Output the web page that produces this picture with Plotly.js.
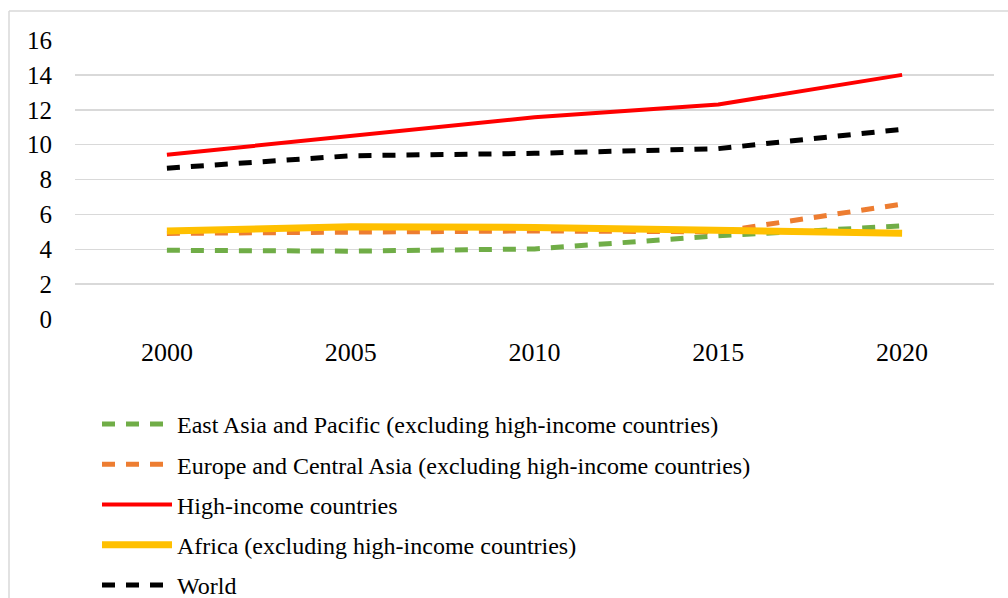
<!DOCTYPE html>
<html>
<head>
<meta charset="utf-8">
<script src="https://cdn.plot.ly/plotly-3.0.1.min.js"></script>
<style>
html,body{margin:0;padding:0;background:#fff;}
#chart{width:1008px;height:598px;}
</style>
</head>
<body>
<div id="chart"></div>
<script>
var years = ['2000', '2005', '2010', '2015', '2020'];
var eastAsia = [3.94, 3.89, 4.02, 4.77, 5.34];
var europe = [4.91, 5.0, 5.05, 5.0, 6.59];
var highIncome = [9.42, 10.5, 11.57, 12.3, 14.0];
var africa = [5.04, 5.29, 5.25, 5.09, 4.92];
var world = [8.65, 9.36, 9.5, 9.77, 10.88];
var names = [
  'East Asia and Pacific (excluding high-income countries)',
  'Europe and Central Asia (excluding high-income countries)',
  'High-income countries',
  'Africa (excluding high-income countries)',
  'World'
];

var FONT = 'Liberation Serif';
var dashPat = '13px,11px';

function tr(y, name, color, width, dash, grp) {
  return {
    x: years, y: y, name: name, type: 'scatter', mode: 'lines',
    line: {color: color, width: width, dash: dash},
    legendgroup: grp, hoverinfo: 'x+y+name'
  };
}

var data = [
  tr(eastAsia, names[0], '#70AD47', 5, dashPat, 'g1'),
  tr(europe, names[1], '#ED7D31', 5, dashPat, 'g2'),
  tr(highIncome, names[2], '#FF0000', 4, 'solid', 'g3'),
  tr(africa, names[3], '#FFC000', 7, 'solid', 'g4'),
  tr(world, names[4], '#000000', 5, dashPat, 'g5')
];

var L = 75, R = 994, T = 40, B = 319;
function px(x){ return (x - L) / (R - L); }
function py(y){ return (B - y) / (B - T); }

var layout = {
  width: 1008, height: 598,
  margin: {l: L, r: 1008 - R, t: T, b: 598 - B, autoexpand: false},
  paper_bgcolor: '#ffffff', plot_bgcolor: '#ffffff',
  font: {family: FONT, size: 24, color: '#000000'},
  xaxis: {
    type: 'category', range: [-0.5, 4.5],
    showgrid: false, zeroline: false, showline: false,
    ticks: '', ticklabelstandoff: 15,
    tickfont: {family: FONT, size: 26, color: '#000'},
    fixedrange: true
  },
  yaxis: {
    range: [0, 16], dtick: 2, tick0: 0,
    showgrid: true, gridcolor: '#d9d9d9', gridwidth: 1.5,
    zeroline: false, showline: false, ticks: '',
    ticklabelstandoff: 22,
    tickfont: {family: FONT, size: 25, color: '#000'},
    fixedrange: true
  },
  showlegend: true,
  legend: {
    orientation: 'v',
    x: px(97), xanchor: 'left',
    y: py(402), yanchor: 'top',
    font: {family: FONT, size: 24, color: '#000'},
    bgcolor: 'rgba(0,0,0,0)',
    itemwidth: 70,
    tracegroupgap: 6,
    traceorder: 'grouped'
  },
  shapes: [
    {type: 'line', xref: 'paper', yref: 'paper', x0: px(9), x1: px(1012), y0: py(11), y1: py(11),
     line: {color: '#d9d9d9', width: 1.5}},
    {type: 'line', xref: 'paper', yref: 'paper', x0: px(9), x1: px(9), y0: py(11), y1: py(610),
     line: {color: '#d9d9d9', width: 1.5}}
  ]
};

Plotly.newPlot('chart', data, layout, {displayModeBar: false, staticPlot: true});
</script>
</body>
</html>
